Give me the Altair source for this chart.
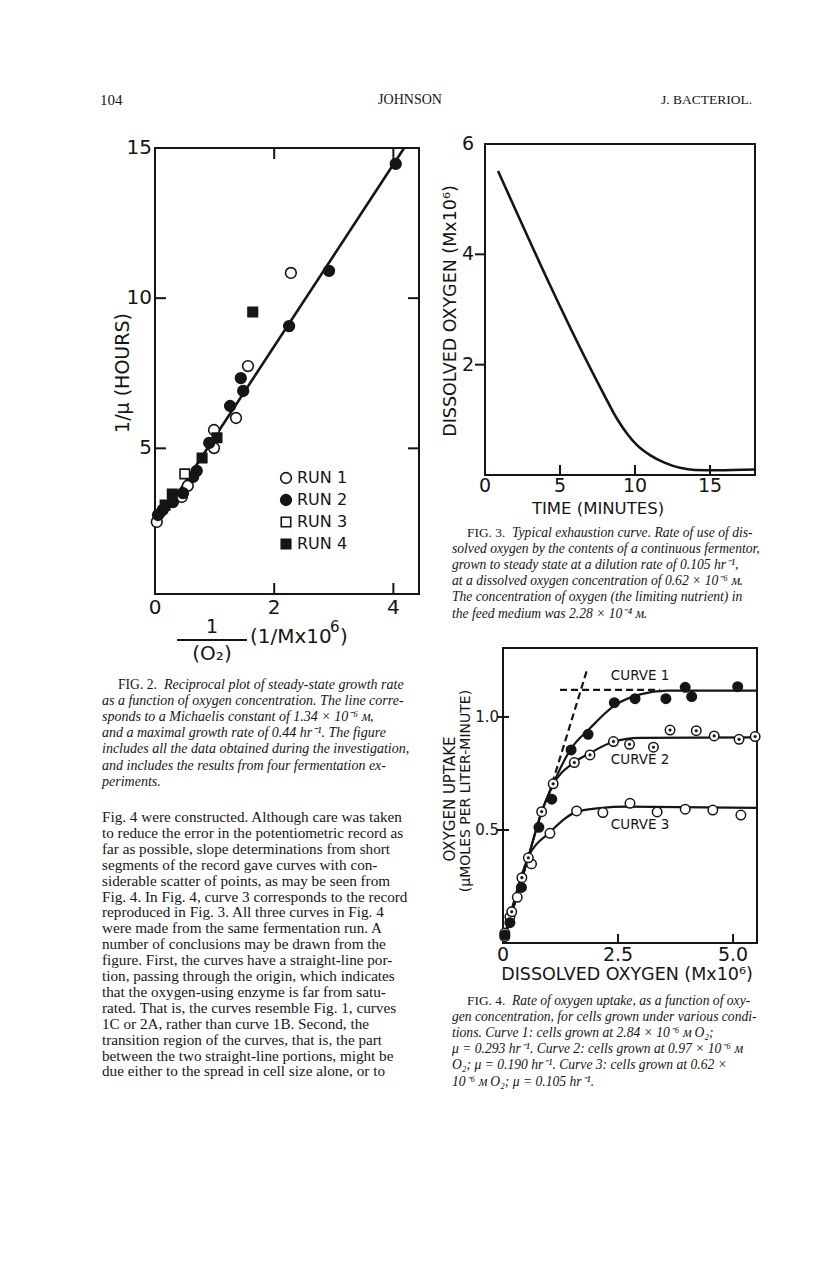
import altair as alt
import pandas as pd

OFF = 8
W, H = 800, 1248
SANS = "DejaVu Sans"
SERIF = "Liberation Serif"
INK = "#151515"

# ---------------- header ----------------
HEADER_LEFT = "104"
HEADER_MID = "JOHNSON"
HEADER_RIGHT = "J. BACTERIOL."

# ---------------- Fig. 2 data ----------------
F2_XTICKS = [0, 2, 4]
F2_YTICKS = [5, 10, 15]
RUN_NAMES = ["RUN 1", "RUN 2", "RUN 3", "RUN 4"]
RUN1_X = [0.03, 2.28, 1.56, 1.36, 0.99, 0.99, 0.55, 0.45]
RUN1_Y = [2.55, 10.84, 7.74, 6.01, 5.61, 5.01, 3.75, 3.38]
RUN2_X = [4.04, 2.92, 2.25, 1.44, 1.48, 1.26, 0.91, 0.70, 0.64, 0.47, 0.30, 0.13, 0.05]
RUN2_Y = [14.47, 10.91, 9.07, 7.34, 6.91, 6.41, 5.18, 4.25, 4.05, 3.51, 3.21, 2.95, 2.78]
RUN3_X = [0.50]
RUN3_Y = [4.15]
RUN4_X = [1.64, 1.04, 0.79, 0.29, 0.17]
RUN4_Y = [9.54, 5.35, 4.68, 3.48, 3.11]
FIT2_X = [0.12, 4.18]
FIT2_Y = [2.70, 15.0]

# ---------------- Fig. 3 data ----------------
F3_XTICKS = [0, 5, 10, 15]
F3_YTICKS = [2, 4, 6]
F3_T = [0.87, 7.87, 8.8, 9.5, 10.1, 11.0, 12.0, 13.0, 14.0, 15.5, 18.0]
F3_O2 = [5.51, 1.49, 1.02, 0.74, 0.55, 0.36, 0.22, 0.13, 0.09, 0.085, 0.10]

# ---------------- Fig. 4 data ----------------
F4_XTICKS = [0, 2.5, 5.0]
F4_XLABELS = ["0", "2.5", "5.0"]
F4_YTICKS = [0.5, 1.0]
F4_YLABELS = ["0.5", "1.0"]
C1_X = [5.10, 3.96, 4.10, 3.54, 2.87, 2.42, 1.85, 1.48, 1.06, 0.78, 0.40, 0.15, 0.04]
C1_Y = [1.134, 1.131, 1.090, 1.081, 1.081, 1.063, 0.923, 0.854, 0.636, 0.512, 0.246, 0.090, 0.035]
C2_X = [5.48, 5.13, 4.59, 4.20, 3.63, 3.27, 2.75, 2.40, 1.89, 1.55, 1.09, 0.84, 0.55, 0.41, 0.19, 0.04]
C2_Y = [0.913, 0.901, 0.916, 0.939, 0.942, 0.866, 0.879, 0.891, 0.832, 0.798, 0.704, 0.581, 0.377, 0.289, 0.138, 0.044]
C3_X = [5.17, 4.56, 3.96, 3.35, 2.76, 2.17, 1.60, 1.02, 0.62, 0.31, 0.15, 0.04]
C3_Y = [0.566, 0.588, 0.592, 0.580, 0.618, 0.577, 0.584, 0.485, 0.350, 0.202, 0.116, 0.028]
FIT1_X = [0, 0.55, 0.84, 1.06, 1.48, 1.89, 2.42, 2.98, 3.56, 5.52]
FIT1_Y = [0, 0.38, 0.58, 0.69, 0.86, 0.95, 1.05, 1.10, 1.116, 1.116]
FIT2C_X = [0, 0.55, 0.84, 1.09, 1.55, 1.89, 2.40, 2.98, 5.52]
FIT2C_Y = [0, 0.38, 0.58, 0.70, 0.80, 0.84, 0.89, 0.907, 0.91]
FIT3_X = [0, 0.55, 1.02, 1.60, 2.10, 2.69, 5.52]
FIT3_Y = [0, 0.38, 0.49, 0.58, 0.597, 0.603, 0.598]
DASH_H_X = [1.24, 3.41]
DASH_H_Y = [1.12, 1.12]
DASH_D_X = [1.00, 1.82]
DASH_D_Y = [0.66, 1.204]
CURVE_NAMES = ["CURVE 1", "CURVE 2", "CURVE 3"]

# ---------------- text ----------------
FIG2_PREFIX = "FIG. 2."
FIG2_CAPTION = [
    "Reciprocal plot of steady-state growth rate",
    "as a function of oxygen concentration. The line corre-",
    "sponds to a Michaelis constant of 1.34 \u00d7 10\u207b\u2076 \u1d0d,",
    "and a maximal growth rate of 0.44 hr\u207b\u00b9. The figure",
    "includes all the data obtained during the investigation,",
    "and includes the results from four fermentation ex-",
    "periments.",
]
FIG3_PREFIX = "FIG. 3."
FIG3_CAPTION = [
    "Typical exhaustion curve. Rate of use of dis-",
    "solved oxygen by the contents of a continuous fermentor,",
    "grown to steady state at a dilution rate of 0.105 hr\u207b\u00b9,",
    "at a dissolved oxygen concentration of 0.62 \u00d7 10\u207b\u2076 \u1d0d.",
    "The concentration of oxygen (the limiting nutrient) in",
    "the feed medium was 2.28 \u00d7 10\u207b\u2074 \u1d0d.",
]
FIG4_PREFIX = "FIG. 4."
FIG4_CAPTION = [
    "Rate of oxygen uptake, as a function of oxy-",
    "gen concentration, for cells grown under various condi-",
    "tions. Curve 1: cells grown at 2.84 \u00d7 10\u207b\u2076 \u1d0d O\u2082;",
    "\u03bc = 0.293 hr\u207b\u00b9. Curve 2: cells grown at 0.97 \u00d7 10\u207b\u2076 \u1d0d",
    "O\u2082; \u03bc = 0.190 hr\u207b\u00b9. Curve 3: cells grown at 0.62 \u00d7",
    "10\u207b\u2076 \u1d0d O\u2082; \u03bc = 0.105 hr\u207b\u00b9.",
]
BODY = [
    "Fig. 4 were constructed. Although care was taken",
    "to reduce the error in the potentiometric record as",
    "far as possible, slope determinations from short",
    "segments of the record gave curves with con-",
    "siderable scatter of points, as may be seen from",
    "Fig. 4. In Fig. 4, curve 3 corresponds to the record",
    "reproduced in Fig. 3. All three curves in Fig. 4",
    "were made from the same fermentation run. A",
    "number of conclusions may be drawn from the",
    "figure. First, the curves have a straight-line por-",
    "tion, passing through the origin, which indicates",
    "that the oxygen-using enzyme is far from satu-",
    "rated. That is, the curves resemble Fig. 1, curves",
    "1C or 2A, rather than curve 1B. Second, the",
    "transition region of the curves, that is, the part",
    "between the two straight-line portions, might be",
    "due either to the spread in cell size alone, or to",
]


def P(v):
    return v - OFF


def lin(domain, r0, r1):
    return alt.Scale(domain=domain, range=[P(r0), P(r1)], nice=False, zero=False, clamp=False)


class Panel:
    def __init__(self, xd, xr, yd, yr):
        self.xd, self.yd = xd, yd
        self.xs = lin(xd, *xr)
        self.ys = lin(yd, *yr)

    def enc(self, xf="x", yf="y"):
        return dict(x=alt.X(f"{xf}:Q", scale=self.xs, axis=None),
                    y=alt.Y(f"{yf}:Q", scale=self.ys, axis=None))


def frame(p):
    df = pd.DataFrame({"x": [p.xd[0]], "x2": [p.xd[1]], "y": [p.yd[0]], "y2": [p.yd[1]]})
    e = p.enc()
    return alt.Chart(df).mark_rect(filled=False, stroke=INK, strokeWidth=2).encode(
        x=e["x"], x2="x2:Q", y=e["y"], y2="y2:Q")


def ticks(p, vals, side, length, offset):
    if side in ("bottom", "top"):
        yv = p.yd[0] if side == "bottom" else p.yd[1]
        df = pd.DataFrame({"x": vals, "y": [yv] * len(vals)})
        m = alt.Chart(df).mark_tick(orient="vertical", size=length, thickness=2, color=INK,
                                    yOffset=offset, opacity=1)
    else:
        xv = p.xd[0] if side == "left" else p.xd[1]
        df = pd.DataFrame({"x": [xv] * len(vals), "y": vals})
        m = alt.Chart(df).mark_tick(orient="horizontal", size=length, thickness=2, color=INK,
                                    xOffset=offset, opacity=1)
    return m.encode(**p.enc())


def tick_labels(p, vals, labels, side, size, shift):
    if side == "bottom":
        df = pd.DataFrame({"x": vals, "y": [p.yd[0]] * len(vals), "t": labels})
        m = alt.Chart(df).mark_text(font=SANS, fontSize=size, align="center", baseline="middle",
                                    dy=shift, color=INK)
    else:
        df = pd.DataFrame({"x": [p.xd[0]] * len(vals), "y": vals, "t": labels})
        m = alt.Chart(df).mark_text(font=SANS, fontSize=size, align="right", baseline="middle",
                                    dx=shift, color=INK)
    return m.encode(text="t:N", **p.enc())


def points(p, xs, ys, shape, fill, size, sw=1.6):
    df = pd.DataFrame({"x": xs, "y": ys})
    return alt.Chart(df).mark_point(shape=shape, filled=True, fill=fill, stroke=INK,
                                    strokeWidth=sw, size=size, opacity=1).encode(**p.enc())


def curve(p, xs, ys, width=2.4, dash=None, interp="linear"):
    df = pd.DataFrame({"x": xs, "y": ys})
    kw = dict(color=INK, strokeWidth=width, interpolate=interp)
    if dash:
        kw["strokeDash"] = dash
    return alt.Chart(df).mark_line(**kw).encode(**p.enc())


def label(txt, x, y, size, font=SANS, align="center", angle=0, style="normal", weight="normal"):
    df = pd.DataFrame({"t": [txt]})
    kw = dict(font=font, fontSize=size, align=align, baseline="middle", color=INK,
              fontStyle=style, fontWeight=weight)
    if angle:
        kw["angle"] = angle
    return alt.Chart(df).mark_text(**kw).encode(x=alt.value(P(x)), y=alt.value(P(y)), text="t:N")


def text_block(lines, x0, y0, dy, size, style="normal", prefix=None, indent=0, prefix_w=0,
               prefix_size=13):
    n = len(lines)
    ys = alt.Scale(domain=[0, n - 1], range=[P(y0), P(y0 + (n - 1) * dy)], nice=False, zero=False)
    common = dict(font=SERIF, fontSize=size, fontStyle=style, align="left", baseline="middle",
                  color=INK)
    rest = pd.DataFrame({"i": list(range(1, n)), "t": lines[1:]})
    first = pd.DataFrame({"i": [0], "t": [lines[0]]})
    out = [
        alt.Chart(rest).mark_text(**common).encode(
            x=alt.value(P(x0)), y=alt.Y("i:Q", scale=ys, axis=None), text="t:N"),
        alt.Chart(first).mark_text(**common).encode(
            x=alt.value(P(x0 + indent + prefix_w)), y=alt.Y("i:Q", scale=ys, axis=None), text="t:N"),
    ]
    if prefix:
        pdf = pd.DataFrame({"i": [0], "t": [prefix]})
        out.append(alt.Chart(pdf).mark_text(font=SERIF, fontSize=prefix_size, align="left",
                                            baseline="middle", color=INK).encode(
            x=alt.value(P(x0 + indent)), y=alt.Y("i:Q", scale=ys, axis=None), text="t:N"))
    return out


layers = []

# ---------- header ----------
layers += [
    label(HEADER_LEFT, 100, 100, 15, font=SERIF, align="left"),
    label(HEADER_MID, 410, 100, 14, font=SERIF),
    label(HEADER_RIGHT, 752, 100, 13.5, font=SERIF, align="right"),
]

# ---------- Fig. 2 ----------
f2 = Panel([0, 4.43], (155, 419), [0.15, 15], (594, 148))
layers += [
    curve(f2, FIT2_X, FIT2_Y, width=2.6),
    frame(f2),
    ticks(f2, [2, 4], "bottom", 11, -5.5),
    ticks(f2, [2, 4], "top", 11, 5.5),
    ticks(f2, [5, 10], "left", 11, 5.5),
    ticks(f2, [5, 10], "right", 11, -5.5),
    tick_labels(f2, F2_XTICKS, [str(v) for v in F2_XTICKS], "bottom", 20, 14),
    tick_labels(f2, F2_YTICKS, [str(v) for v in F2_YTICKS], "left", 20, -3),
    points(f2, RUN1_X, RUN1_Y, "circle", "white", 115),
    points(f2, RUN2_X, RUN2_Y, "circle", INK, 115),
    points(f2, RUN3_X, RUN3_Y, "square", "white", 90),
    points(f2, RUN4_X, RUN4_Y, "square", INK, 90),
]
# legend
leg_scale = alt.Scale(domain=[0, 3], range=[P(478), P(544)], nice=False, zero=False)
leg_styles = [("circle", "white", 115), ("circle", INK, 115), ("square", "white", 90), ("square", INK, 90)]
for k, (shape, fill, size) in enumerate(leg_styles):
    d = pd.DataFrame({"i": [k]})
    layers.append(alt.Chart(d).mark_point(shape=shape, filled=True, fill=fill, stroke=INK,
                                          strokeWidth=1.6, size=size, opacity=1).encode(
        x=alt.value(P(286)), y=alt.Y("i:Q", scale=leg_scale, axis=None)))
leg_df = pd.DataFrame({"i": list(range(4)), "t": RUN_NAMES})
layers.append(alt.Chart(leg_df).mark_text(font=SANS, fontSize=16, align="left", baseline="middle",
                                          color=INK).encode(
    x=alt.value(P(297)), y=alt.Y("i:Q", scale=leg_scale, axis=None), text="t:N"))
# axis titles
layers += [
    label("1/\u03bc (HOURS)", 123, 373, 19, angle=270),
    label("1", 212, 627, 19),
    alt.Chart(pd.DataFrame({"a": [0]})).mark_rule(color=INK, strokeWidth=2).encode(
        x=alt.value(P(177)), x2=alt.value(P(247)), y=alt.value(P(640))),
    label("(O\u2082)", 212, 654, 20),
    label("(1/Mx10", 250, 637, 20, align="left"),
    label("6", 330, 627, 15, align="left"),
    label(")", 340, 637, 20, align="left"),
]

# ---------- Fig. 3 ----------
f3 = Panel([0, 18], (485, 755), [0, 6], (475, 144))
layers += [
    curve(f3, F3_T, F3_O2, width=2.6, interp="monotone"),
    frame(f3),
    ticks(f3, [5, 10, 15], "bottom", 10, -5),
    ticks(f3, [2, 4], "left", 10, -5),
    tick_labels(f3, F3_XTICKS, [str(v) for v in F3_XTICKS], "bottom", 19, 11),
    tick_labels(f3, F3_YTICKS, [str(v) for v in F3_YTICKS], "left", 19, -11),
    label("DISSOLVED OXYGEN (Mx10\u2076)", 451, 311, 17.5, angle=270),
    label("TIME (MINUTES)", 598, 509, 16.5),
]

# ---------- Fig. 4 ----------
f4 = Panel([0, 5.52], (503, 757), [0, 1.305], (943, 648))
layers += [
    curve(f4, FIT1_X, FIT1_Y, width=2.2, interp="monotone"),
    curve(f4, FIT2C_X, FIT2C_Y, width=2.2, interp="monotone"),
    curve(f4, FIT3_X, FIT3_Y, width=2.2, interp="monotone"),
    curve(f4, DASH_H_X, DASH_H_Y, width=2.2, dash=[7, 4]),
    curve(f4, DASH_D_X, DASH_D_Y, width=2.2, dash=[7, 4]),
    frame(f4),
    ticks(f4, [2.5, 5.0], "bottom", 9, -4.5),
    ticks(f4, F4_YTICKS, "left", 12, 0),
    tick_labels(f4, F4_XTICKS, F4_XLABELS, "bottom", 19, 12),
    tick_labels(f4, F4_YTICKS, F4_YLABELS, "left", 15, -4),
    points(f4, C3_X, C3_Y, "circle", "white", 90, 1.5),
    points(f4, C2_X, C2_Y, "circle", "white", 90, 1.5),
    points(f4, C2_X, C2_Y, "circle", INK, 7, 0.5),
    points(f4, C1_X, C1_Y, "circle", INK, 90, 1.5),
]
curve_lab = pd.DataFrame({"x": [2.98, 2.98, 2.98], "y": [1.18, 0.810, 0.523], "t": CURVE_NAMES})
layers.append(alt.Chart(curve_lab).mark_text(font=SANS, fontSize=13.5, align="center",
                                             baseline="middle", color=INK).encode(
    text="t:N", **f4.enc()))
layers += [
    label("OXYGEN UPTAKE", 450, 799, 15, angle=270),
    label("(\u03bcMOLES PER LITER-MINUTE)", 466, 791, 14, angle=270),
    label("DISSOLVED OXYGEN (Mx10\u2076)", 627, 975, 17.5),
]

# ---------- captions and body ----------
layers += text_block(FIG2_CAPTION, 102, 685, 16.1, 14.0, style="italic", prefix=FIG2_PREFIX,
                     indent=16, prefix_w=46, prefix_size=13.6)
layers += text_block(BODY, 102, 817, 15.9, 15.2)
layers += text_block(FIG3_CAPTION, 452, 533, 16.1, 13.6, style="italic", prefix=FIG3_PREFIX,
                     indent=15, prefix_w=45, prefix_size=13.4)
layers += text_block(FIG4_CAPTION, 452, 1001, 16.1, 13.6, style="italic", prefix=FIG4_PREFIX,
                     indent=15, prefix_w=45, prefix_size=13.4)

chart = alt.layer(*layers).resolve_scale(x="independent", y="independent").properties(
    width=W, height=H, padding=0, autosize=alt.AutoSizeParams(type="none"), background="white"
).configure_view(stroke=None)

chart.save("out.html", embed_options={"renderer": "svg", "actions": False})
